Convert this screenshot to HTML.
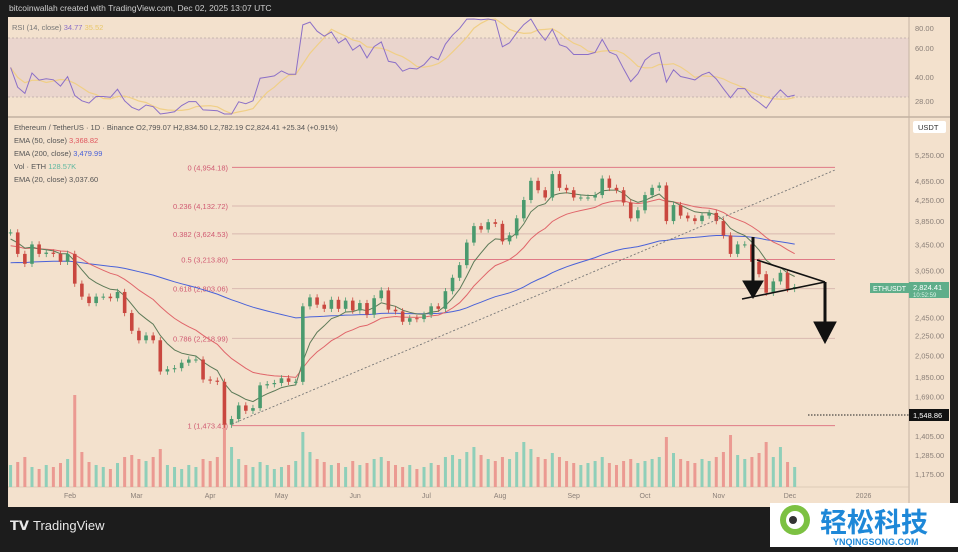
<!DOCTYPE html>
<html><head><meta charset="utf-8">
<style>
body{margin:0;width:958px;height:547px;background:#1c1c1c;overflow:hidden;font-family:"Liberation Sans","Noto Sans CJK SC",sans-serif;}
svg text{font-family:"Liberation Sans","Noto Sans CJK SC",sans-serif;}
</style></head>
<body>
<svg id="c" width="958" height="547" viewBox="0 0 958 547" xmlns="http://www.w3.org/2000/svg">
<rect x="0" y="0" width="958" height="547" fill="#1c1c1c"/>
<text x="9" y="11" font-size="8.5" fill="#cfcfcf">bitcoinwallah created with TradingView.com, Dec 02, 2025 13:07 UTC</text>
<rect x="8" y="17" width="942" height="490" fill="#f3e1cd"/>
<rect x="8" y="38" width="901" height="59" fill="#ead5cd"/>
<line x1="8" y1="38" x2="909" y2="38" stroke="#b9a9a4" stroke-dasharray="2,2" stroke-width="0.7"/>
<line x1="8" y1="97" x2="909" y2="97" stroke="#b9a9a4" stroke-dasharray="2,2" stroke-width="0.7"/>
<line x1="8" y1="117" x2="950" y2="117" stroke="#b8a898" stroke-width="1.2"/>
<line x1="909" y1="17" x2="909" y2="507" stroke="#c4b3a2" stroke-width="1"/>
<line x1="8" y1="487" x2="909" y2="487" stroke="#d4c2b0" stroke-width="0.8"/>
<g id="rsiAxis" font-size="7.5" fill="#8a7f78">
<text x="915" y="31">80.00</text><text x="915" y="51">60.00</text><text x="915" y="80">40.00</text><text x="915" y="104">28.00</text>
</g>
<text x="12" y="30" font-size="7.5" fill="#777">RSI (14, close) <tspan fill="#8b6fc7">34.77</tspan> <tspan fill="#e8c76a">35.52</tspan></text>
<rect x="913" y="121" width="33" height="12" fill="#fff" rx="2"/>
<text x="918" y="130" font-size="7.5" fill="#333">USDT</text>
<g font-size="7.5" fill="#555">
<text x="14" y="130">Ethereum / TetherUS · 1D · Binance  O2,799.07  H2,834.50  L2,782.19  C2,824.41  +25.34 (+0.91%)</text>
<text x="14" y="143">EMA (50, close) <tspan fill="#e0565e">3,368.82</tspan></text>
<text x="14" y="156">EMA (200, close) <tspan fill="#4a62d8">3,479.99</tspan></text>
<text x="14" y="169">Vol · ETH <tspan fill="#5fb8a0">128.57K</tspan></text>
<text x="14" y="182">EMA (20, close) 3,037.60</text>
</g>
<g id="gAxis" font-size="7.5" fill="#8a7f78"></g>
<g id="gX" font-size="7" fill="#8a7f78"></g>
<g id="gFib"></g>
<g id="gVol"></g>
<g id="gEma"></g>
<g id="gCandles"></g>
<g id="gRsi"></g>
<line x1="232" y1="424" x2="835" y2="170" stroke="#777" stroke-dasharray="2,2" stroke-width="0.9"/>
<g>
<line x1="757" y1="260" x2="825" y2="282" stroke="#111" stroke-width="1.6"/>
<line x1="742" y1="299" x2="825" y2="282" stroke="#111" stroke-width="1.6"/>
</g>
<g fill="#111" stroke="#111">
<line x1="753" y1="237" x2="753" y2="285" stroke-width="3"/>
<polygon points="743,281 763,281 753,298"/>
<line x1="825" y1="282" x2="825" y2="328" stroke-width="3"/>
<polygon points="814,322 836,322 825,343"/>
</g>
<line x1="808" y1="415" x2="909" y2="415" stroke="#222" stroke-dasharray="1.5,1.5" stroke-width="1"/>
<rect x="909" y="409" width="40" height="12" fill="#111"/>
<text x="913" y="418" font-size="7.5" fill="#fff">1,548.86</text>
<rect x="870" y="283" width="39" height="10" fill="#5fae8a"/>
<text x="873" y="291" font-size="7" fill="#fff">ETHUSDT</text>
<rect x="909" y="282" width="40" height="16" fill="#5fae8a"/>
<text x="913" y="290" font-size="7.5" fill="#fff">2,824.41</text>
<text x="913" y="297" font-size="6" fill="#d8f0e4">10:52:59</text>
<g>
<text x="10" y="530" font-size="13" font-weight="bold" fill="#e8e8e8">𝗧𝗩</text>
<text x="33" y="530" font-size="13" fill="#e8e8e8">TradingView</text>
</g>
<g>
<rect x="770" y="503" width="188" height="44" fill="#fff"/>
<circle cx="795" cy="520" r="15" fill="#7cc142"/>
<circle cx="795" cy="520" r="9" fill="#fff"/>
<circle cx="793" cy="520" r="4" fill="#333"/>
<text x="820" y="532" font-size="27" font-weight="bold" fill="#1e88d8">轻松科技</text>
<text x="833" y="545" font-size="9" font-weight="bold" fill="#1e88d8">YNQINGSONG.COM</text>
</g>
</svg>
<script>
const closes=[3650,3300,3150,3450,3300,3320,3300,3180,3300,2870,2700,2620,2700,2700,2680,2760,2500,2300,2200,2250,2200,1900,1920,1930,1980,2010,2010,1830,1820,1810,1480,1520,1620,1580,1600,1780,1790,1800,1840,1810,1810,2580,2690,2600,2550,2660,2550,2650,2530,2620,2480,2680,2780,2540,2520,2400,2440,2430,2480,2580,2550,2770,2950,3130,3480,3760,3700,3830,3800,3500,3600,3900,4250,4650,4450,4300,4800,4500,4450,4300,4300,4300,4350,4700,4500,4450,4200,3900,4050,4350,4500,4550,3850,4150,3950,3900,3850,3950,4000,3850,3600,3300,3450,3450,3180,3000,2750,2900,3020,2800,2824];
const volumes=[22,25,30,20,18,22,20,24,28,92,35,25,22,20,18,24,30,32,28,26,30,38,22,20,18,22,20,28,26,30,70,40,28,22,20,25,22,18,20,22,26,55,35,28,25,22,24,20,26,22,24,28,30,26,22,20,22,18,20,24,22,30,32,28,35,40,32,28,26,30,28,35,45,38,30,28,34,30,26,24,22,24,26,30,24,22,26,28,24,26,28,30,50,34,28,26,24,28,26,30,35,52,32,28,30,34,45,30,40,25,20];
const fibLevels=[0,0.236,0.382,0.5,0.618,0.786,1];
const fibPrices=[4954.18,4132.72,3624.53,3213.80,2803.06,2218.99,1473.41];
const priceTicks=[5250,4650,4250,3850,3450,3050,2450,2250,2050,1850,1690,1405,1285,1175];
const monthLabels=["Feb","Mar","Apr","May","Jun","Jul","Aug","Sep","Oct","Nov","Dec","2026"];
const monthDays=[31,59,90,120,151,181,212,243,273,304,334,365];
const NS="http://www.w3.org/2000/svg";
function y(p){return 155+(Math.log(5250)-Math.log(p))*213;}
function xd(d){return 70+(d-31)*2.376;}
function xt(t){return xd(6+3*t);}
function ry(v){return 97-(v-30)*59/40;}
function mk(tag,attrs,parent){const e=document.createElementNS(NS,tag);for(const k in attrs)e.setAttribute(k,attrs[k]);document.getElementById(parent).appendChild(e);return e;}
priceTicks.forEach(p=>{const e=mk('text',{x:915,y:y(p)+3},'gAxis');e.textContent=p.toLocaleString('en-US',{minimumFractionDigits:2});

});
monthLabels.forEach((m,i)=>{const e=mk('text',{x:xd(monthDays[i]),y:498,'text-anchor':'middle'},'gX');e.textContent=m;

});
fibLevels.forEach((l,i)=>{const yy=y(fibPrices[i]);const strong=(l===0||l===0.5||l===1);
const ln=mk('line',{x1:232,y1:yy,x2:835,y2:yy,stroke:strong?'#e07a86':'#d8b8b0','stroke-width':1},'gFib');


const t=mk('text',{x:228,y:yy+3,'text-anchor':'end','font-size':7.5,fill:'#d05a72'},'gFib');
t.textContent=l+' ('+fibPrices[i].toLocaleString('en-US',{minimumFractionDigits:2})+')';

});
const vmax=Math.max(...volumes);
volumes.forEach((v,i)=>{const up=i===0||closes[i]>=closes[i-1];const h=v/vmax*92;
const r=mk('rect',{x:xt(i)-1.5,y:487-h,width:3,height:h,fill:up?'#8fcfb9':'#eb9a92'},'gVol');

});
function ema(n,seed){const a=2/(n/3+1);let e=seed;return closes.map(c=>e=e+a*(c-e));}
[[200,3150,'#4a62d8'],[50,3400,'#e0656a'],[20,3500,'#5d7a58']].forEach(([n,s,col])=>{
const vals=ema(n,s);const pts=vals.map((v,i)=>xt(i).toFixed(1)+','+y(v).toFixed(1)).join(' ');
const pl=mk('polyline',{points:pts,fill:'none',stroke:col,'stroke-width':1},'gEma');

});
closes.forEach((c,i)=>{const o=i===0?c:closes[i-1];const up=c>=o;const col=up?'#4a9a6e':'#c9473f';
const hi=Math.max(o,c)*1.015,lo=Math.min(o,c)*0.985;
const w=mk('line',{x1:xt(i),y1:y(hi),x2:xt(i),y2:y(lo),stroke:col,'stroke-width':0.8},'gCandles');


const top=y(Math.max(o,c)),bh=Math.max(1,y(Math.min(o,c))-top);
const b=mk('rect',{x:xt(i)-1.8,y:top,width:3.6,height:bh,fill:col},'gCandles');

});
// RSI (Wilder smoothing, seeded neutral)
const P=9;let ag=60,al=60;const rsi=[];
closes.forEach((c,i)=>{if(i===0){rsi.push(50);return;}const d=c-closes[i-1];const g=Math.max(d,0),l=Math.max(-d,0);
ag=(ag*(P-1)+g)/P;al=(al*(P-1)+l)/P;
rsi.push(100-100/(1+ag/al));});
const rma=rsi.map((v,i)=>{const s=rsi.slice(Math.max(0,i-4),i+1);return s.reduce((a,b)=>a+b,0)/s.length;});
const cl=v=>Math.min(114,Math.max(19,ry(v)));
const p1=mk('polyline',{points:rma.map((v,i)=>xt(i).toFixed(1)+','+cl(v).toFixed(1)).join(' '),fill:'none',stroke:'#f0cf86','stroke-width':1.2},'gRsi');


const p2=mk('polyline',{points:rsi.map((v,i)=>xt(i).toFixed(1)+','+cl(v).toFixed(1)).join(' '),fill:'none',stroke:'#8b6fc7','stroke-width':1},'gRsi');


</script>
</body></html>
